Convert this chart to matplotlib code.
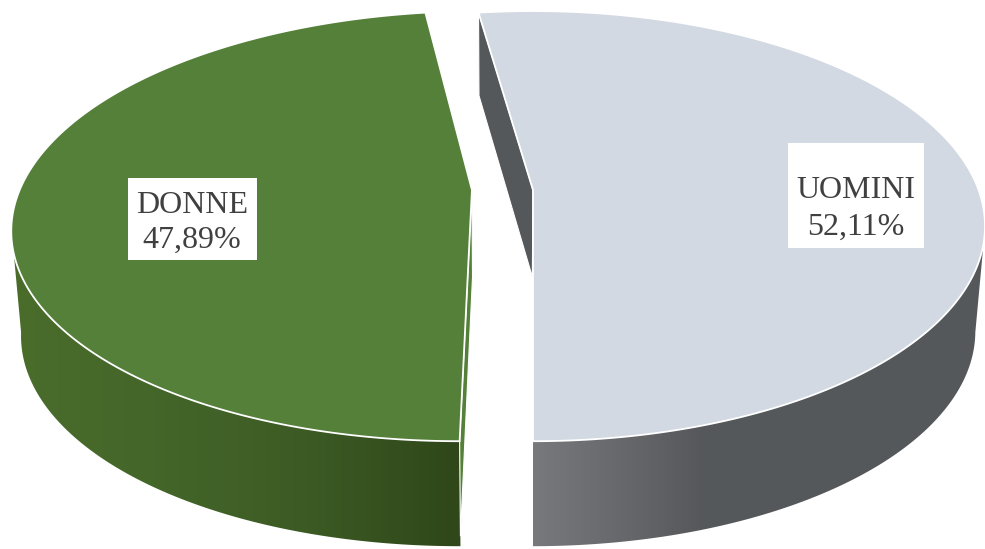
import numpy as np
import matplotlib
matplotlib.use("Agg")
import matplotlib.pyplot as plt
from matplotlib.colors import LinearSegmentedColormap
from matplotlib.patches import Polygon, Rectangle

labels = ["UOMINI", "DONNE"]
values = [52.11, 47.89]
top_colors = ["#d3d9e2", "#55803a"]
cut_colors = ["#55585b", "#55803a"]
wall_stops = [
    [(0, "#77797d"), (0.24, "#636468"), (0.37, "#56585b"), (1, "#55585b")],
    [(0, "#4a6d2c"), (0.25, "#45682a"), (0.63, "#3d5c25"), (1, "#2f4719")],
]

# perspective model of the disc, in pixels of the picture
X0, Y0 = 533, 190
BX, AY, K = 445.6, 209.0, 0.168
WALL_DROP = 105
SHRINK = 0.98
VANISH_X = 500
EXPLODE = 0.137
WIDEN = [1.0, 1.015]
BACK_NUDGE = np.radians(0.6)


def project(theta, shift=0.0, widen=1.0):
    c, s = np.cos(theta), np.sin(theta)
    x = X0 + BX * (widen * c - shift) / (1 + K * s)
    y = Y0 - AY * s / (1 + K * s)
    return x, y


def drop(x, y, amount):
    """Point under (x, y) on the bottom of the disc."""
    return VANISH_X + (x - VANISH_X) * SHRINK, y + amount


fig = plt.figure(figsize=(9.85, 5.49), dpi=100)
ax = fig.add_axes([0, 0, 1, 1])

# angles come from the values; the first slice starts at the front of the pie
sweep = np.array(values) / sum(values) * 2 * np.pi
start = -np.pi / 2
back = start + sweep[0] + BACK_NUDGE
end = start + 2 * np.pi
ranges = [(start, back), (back, end)]
shifts = [0.0, EXPLODE]
# the walls run from the front of the pie to the outer ends of the disc
wall_ranges = [(start, np.radians(-10)), (np.radians(190), end)]
wall_extent = [[533, 985, 549, 0], [12, 461, 549, 0]]
cut_end_drop = [83, 95]

for i in [1, 0]:
    t0, t1 = ranges[i]
    shift = shifts[i]

    # outer wall with gradient
    w0, w1 = wall_ranges[i]
    th = np.linspace(w0, w1, 200)
    x, y = project(th, shift, WIDEN[i])
    bx, by = drop(x, y, WALL_DROP)
    wall = Polygon(np.column_stack([np.r_[x, bx[::-1]], np.r_[y, by[::-1]]]), closed=True,
                   facecolor="none", edgecolor="none")
    ax.add_patch(wall)
    cmap = LinearSegmentedColormap.from_list("w%d" % i, wall_stops[i])
    im = ax.imshow(np.linspace(0, 1, 256).reshape(1, -1), cmap=cmap, extent=wall_extent[i],
                   aspect="auto", zorder=1)
    im.set_clip_path(wall)

    # cut face that can be seen
    px = X0 - BX * shift
    py = Y0
    ex, ey = project(np.array([t1]), shift, WIDEN[i])
    ex, ey = ex[0], ey[0]
    bx0, by0 = drop(ex, ey, cut_end_drop[i])
    cx0, cy0 = drop(px, py, 87)
    ax.add_patch(Polygon([(ex, ey), (px, py), (cx0, cy0), (bx0, by0)], closed=True,
                         facecolor=cut_colors[i], edgecolor="white", linewidth=0.8, zorder=2))

    # top face
    th = np.linspace(t0, t1, 300)
    x, y = project(th, shift, WIDEN[i])
    ax.add_patch(Polygon(np.column_stack([np.r_[px, x], np.r_[py, y]]), closed=True,
                         facecolor=top_colors[i], edgecolor="white", linewidth=1.3, zorder=3))

# labels
label_pos = [(856, 209), (192, 223)]
label_box = [(788, 143, 136, 105), (128, 178, 129, 82)]
label_spacing = [1.39, 1.25]
for i in range(2):
    bx_, by_, bw, bh = label_box[i]
    ax.add_patch(Rectangle((bx_, by_), bw, bh, facecolor="white", edgecolor="none", zorder=4))
    txt = "%s\n%s%%" % (labels[i], ("%.2f" % values[i]).replace(".", ","))
    ax.text(label_pos[i][0], label_pos[i][1], txt, ha="center", va="center",
            family="Liberation Serif", fontsize=23, color="#404040",
            linespacing=label_spacing[i], zorder=5)

ax.set_xlim(0, 985)
ax.set_ylim(549, 0)
ax.axis("off")
fig.savefig("out.png", dpi=100, facecolor="white")
